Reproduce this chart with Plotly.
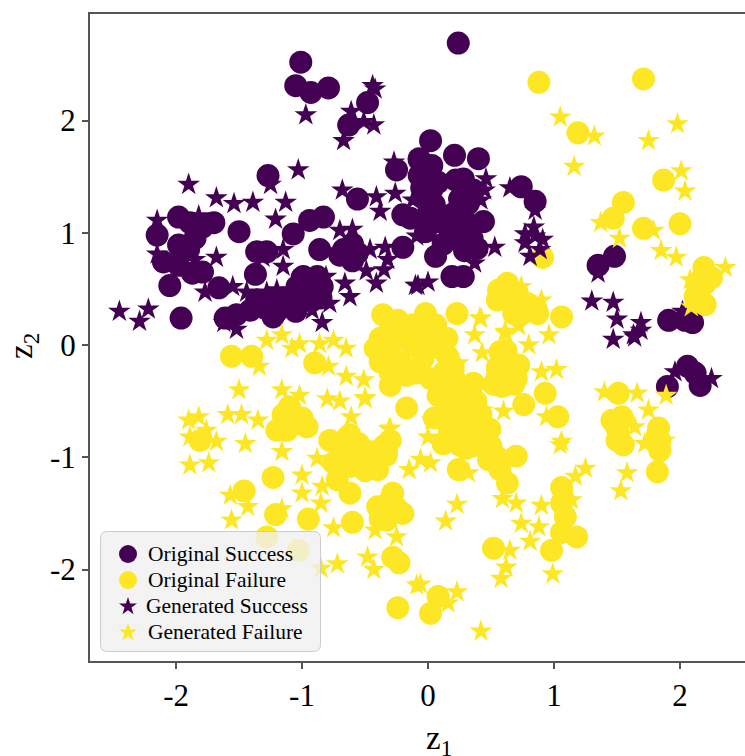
import math
import plotly.graph_objects as go

orig_success_x = [-1.01,-1.05,-.93,-.79,-.48,-.63,-1.27,-.25,-.07,-.56,-.2,-.2,-1.5,-1.98,-2.15,-1.98,-1.89,-1.79,-1.70,-2.10,-1.98,-1.87,-1.79,-2.05,-1.96,-1.66,-1.61,-1.37,-1.36,-1.28,-1.07,-.94,-.83,-.86,-.67,-.56,-.99,-.88,-1.04,-.94,-.84,-1.36,-1.25,-1.15,-1.23,-1.41,-1.52,-1.1,
 .02,-.07,.21,.40,-.07,.03,-.14,-.0,.2,.44,.36,.32,.22,.06,.29,.39,.19,.28,.74,.85,-.02,.02,-.02,.33,.23,.24,1.35,1.48,1.91,2.10,2.04,2.06,2.16,1.90,2.12,
 -1.2,-1.05,-.95,-.95,-.85,-1.0,-.85,-1.3,-1.15,.05,.08,-.05,.03,.1,.25,.3,.35,.2,.28,.12,-.6,-.7,-.6,-1.85,-1.9]
orig_success_y = [2.52,2.31,2.25,2.29,2.16,1.96,1.51,1.56,1.65,1.30,1.16,.87,1.01,1.14,.98,.89,1.09,1.05,1.09,.74,.71,.64,.65,.53,.24,.51,.24,.63,.83,.83,.99,1.11,1.14,.85,.85,.82,.61,.61,.52,.49,.52,.40,.37,.34,.25,.31,.27,.40,
 1.82,1.66,1.69,1.66,1.51,1.38,1.13,1.17,1.17,1.10,1.38,1.26,1.47,.79,.84,.86,.61,.61,1.41,1.28,1.32,1.08,1.01,.99,1.05,2.69,.71,.79,.22,.20,.22,-.19,-.36,-.37,-.25,
 .3,.3,.4,.55,.5,.6,.42,.33,.42,1.25,1.45,1.4,1.6,1.1,1.3,1.1,.95,.95,1.48,.9,.9,.8,.75,.95,.85]

orig_failure_x = [.88,1.71,1.19,1.87,1.55,1.47,1.71,2.0,.91,2.19,2.22,2.14,2.2,2.2,2.12,1.06,.63,.56,.71,.79,.87,.67,
 -1.56,-1.40,-.90,-1.10,-1.12,-1.04,-1.2,-.96,-1.81,-1.23,-1.46,-1.21,-.95,-.6,-1.28,-1.03,-.40,-.33,-.62,-.72,-.78,-.64,-.56,-.75,-.48,-.40,-.28,-.2,-.33,-.28,-.23,-.24,
 .02,.08,.52,.98,1.18,1.06,1.09,1.06,1.06,.49,.63,.57,.93,1.03,.59,.67,.59,1.51,1.46,1.54,1.51,1.55,1.83,1.84,1.82,1.84,
 -.36,-.24,-.02,.23,-.38,-.22,-.04,.15,-.38,-.22,-.04,.15,-.30,-.17,-.17,.10,.36,.25,.17,.25,.36,.48,.17,.25,.24,.48,.70,.76,.57,.60,.65,-.33,-.62,-.54,-.43,
 -.3,-.12,.06,-.3,-.12,.05,-.3,-.1,.02,.12,-.42,.2,.08,.22,.12,.3,.28,.2,.35,-1.15,-1.0,-.68,-.55,-.45,-.35,-.62,-.5,-.3,-.35,-.25,-.3,-.38,.6,.65,.72,.78,.68,.55,.5,.55,1.49,1.5,1.82,2.15,2.25,2.18,.62,.55,.7,.52,
 .1,.2,.3,.38,.05,.18,.32,.42,.3,.12,.62,.72,.68,.55]
orig_failure_y = [2.34,2.37,1.89,1.47,1.27,1.13,1.04,1.08,.78,.69,.61,.52,.55,.36,.43,.25,.55,.49,.46,.37,.28,.37,
 -.10,-.10,-.16,-.55,-.76,-.70,-.76,-.73,-.85,-1.18,-1.3,-1.51,-1.55,-1.58,-1.71,-1.83,-1.11,-.96,-1.32,-1.20,-.85,-.82,-1.0,-1.05,-1.02,-1.44,-1.32,-1.5,-1.56,-1.89,-1.94,-2.34,
 -2.39,-2.24,-1.81,-1.83,-1.71,-1.67,-1.53,-1.41,-1.27,-.75,-1.23,-1.11,-.43,-.64,-.12,-.28,-.37,-.43,-.67,-.64,-.78,-.89,-.74,-.94,-1.13,-.85,
 .27,.22,.28,.28,.06,.06,.09,.06,-.15,-.15,-.12,-.09,-.36,-.27,-.56,-.33,-.34,-.45,-.56,-.65,-.74,-.76,-.77,-.89,-1.11,-1.02,-.99,-.53,-.06,-.36,-.27,-.98,-.80,-.98,-1.01,
 .18,.18,.18,-.02,0,-.02,-.25,-.25,-.3,-.25,-.03,-.2,-.45,-.32,-.62,-.55,-.85,-.7,-.9,-.62,-.65,-.95,-.88,-.95,-.9,-1.08,-1.12,-.85,-1.5,-1.45,-1.38,-1.55,.45,.5,.35,.3,.28,.4,-.9,-1.0,-.72,-.85,-.8,.45,.6,.6,-.2,-.28,-.3,-.35,
 -.4,-.5,-.4,-.5,-.65,-.78,-.72,-.62,-.92,-.88,-.05,-.18,-.35,-.2]

gen_success_x = [-2.45,-2.22,-2.29,-1.90,-1.68,-1.54,-1.39,-1.13,-1.21,-1.03,-1.25,-.97,-.67,-.61,-.43,-.51,-.44,-.42,-.27,-.68,-.41,-.38,-.26,-.60,-.70,-1.68,-2.15,-2.15,-1.82,-1.85,-1.77,-1.55,-1.31,-1.15,-.46,-.34,-.32,-.35,-.49,-.66,-.41,-.62,-.10,-.84,-.92,-.78,-.81,-1.15,-1.20,-1.44,-1.28,-1.52,-1.62,-1.04,-.09,-.12,
 .0,-.08,.46,.65,.85,.84,.77,.91,.77,.81,.85,.89,1.35,1.30,1.47,1.50,1.69,1.63,1.47,1.64,1.69,2.02,.53,.37,.45,.42,2.25,1.96]
gen_success_y = [.30,.32,.21,1.43,1.31,1.26,1.27,1.27,1.12,1.56,1.43,2.05,1.82,2.08,1.96,1.99,2.31,2.28,1.63,1.38,1.32,1.19,1.35,1.03,1.02,.78,1.11,.81,1.15,.76,.47,.52,.78,.85,.85,.87,.76,.67,.66,.55,.55,.43,.53,.20,.31,.37,.61,.70,.49,.47,.47,.14,.20,.31,.97,1.29,
 .56,.53,1.48,1.40,1.20,1.05,.99,.94,.91,.79,.97,.85,.64,.39,.38,.23,.20,.09,.05,.07,.13,.30,.87,.73,1.38,1.29,-.30,-.24]

gen_failure_x = [1.05,1.32,1.16,1.75,1.98,2.01,2.04,1.37,1.52,1.79,1.85,1.97,2.36,2.08,2.09,.42,.37,.61,.80,.96,.90,.74,.72,.62,.43,.24,1.02,.90,1.40,1.66,1.89,1.75,.60,.94,1.64,1.72,1.88,1.05,1.06,.02,-.06,.32,1.25,1.17,1.58,1.53,.23,.14,.59,.70,.90,1.14,.74,.88,.81,.65,.62,.58,.99,.23,-.06,.16,.42,.03,0,.43,
 -1.34,-1.28,-1.16,-1.08,-1.02,-.86,-.75,-.65,-.79,-.65,-.51,-1.50,-1.16,-1.02,-.80,-.70,-.50,-1.59,-1.48,-1.35,-1.90,-1.82,-1.76,-1.68,-1.89,-1.45,-1.16,-.88,-1.89,-1.74,-1.00,-1.00,-.84,-.85,-1.57,-1.43,-1.56,-1.16,-.75,-.30,-.42,-.25,-.48,-.43,-.72,-.85,-.09,-.15,-.61,.41,-.31,-.50]
gen_failure_y = [2.03,1.86,1.59,1.82,1.97,1.55,1.37,1.09,.95,1.02,.84,.78,.69,.58,.34,.24,.09,.12,.0,.09,.40,.52,.17,.10,-.07,-.16,-.22,-.24,-.42,-.43,-.45,-.58,-.59,-.64,-.73,-.88,-.85,-.89,-.86,-1.05,-1.02,-1.14,-1.10,-1.17,-1.14,-1.30,-1.42,-1.57,-1.37,-1.41,-1.43,-1.38,-1.59,-1.62,-1.75,-1.83,-1.98,-2.08,-2.04,-2.20,-2.13,-2.30,-2.55,-.67,-.82,-.58,
 -.19,.04,.09,-.03,.01,.01,.04,-.03,-.19,-.28,-.31,-.40,-.40,-.45,-.48,-.50,-.48,-.62,-.62,-.67,-.67,-.64,-.76,-.86,-.82,-.88,-.95,-1.01,-1.07,-1.05,-1.16,-1.32,-1.26,-1.41,-1.34,-1.44,-1.56,-1.46,-1.63,-.74,-1.65,-1.71,-1.89,-2.0,-1.95,-1.99,-2.14,-1.11,-.64,.24,-.75,-.47]

x_ticks = [-2,-1,0,1,2]
y_ticks = [-2,-1,0,1,2]
x_range = [-2.683,2.516]
y_range = [-2.815,2.949]
legend_labels = ["Original Success", "Original Failure", "Generated Success", "Generated Failure"]

PURPLE = "#440154"
YELLOW = "#fde725"
SERIF = "Liberation Serif"

fig = go.Figure()
for name, xs, ys, sym, col, size in [
    (legend_labels[0], orig_success_x, orig_success_y, "circle", PURPLE, 23),
    (legend_labels[1], orig_failure_x, orig_failure_y, "circle", YELLOW, 23),
    (legend_labels[2], gen_success_x, gen_success_y, "star", PURPLE, 17),
    (legend_labels[3], gen_failure_x, gen_failure_y, "star", YELLOW, 17),
]:
    fig.add_trace(go.Scatter(x=xs, y=ys, mode="markers", name=name, showlegend=False,
                             marker=dict(symbol=sym, color=col, size=size, line=dict(width=0))))

W, H = 655.0, 647.0
px = lambda v: (v - 90) / W
py = lambda v: (661 - v) / H

def rr(x0, y0, x1, y1, r):
    return (f"M{px(x0+r)},{py(y0)} L{px(x1-r)},{py(y0)} Q{px(x1)},{py(y0)} {px(x1)},{py(y0+r)} "
            f"L{px(x1)},{py(y1-r)} Q{px(x1)},{py(y1)} {px(x1-r)},{py(y1)} "
            f"L{px(x0+r)},{py(y1)} Q{px(x0)},{py(y1)} {px(x0)},{py(y1-r)} "
            f"L{px(x0)},{py(y0+r)} Q{px(x0)},{py(y0)} {px(x0+r)},{py(y0)} Z")

def star(cx, cy, R):
    pts = []
    for i in range(10):
        a = -math.pi / 2 + i * math.pi / 5
        r = R if i % 2 == 0 else R * 0.382
        pts.append(f"{px(cx + r*math.cos(a))},{py(cy + r*math.sin(a))}")
    return "M" + " L".join(pts) + " Z"

fig.add_shape(type="path", xref="paper", yref="paper", layer="above",
              path=rr(100.5, 531.5, 320.5, 651.5, 7),
              fillcolor="rgba(240,240,240,0.8)", line=dict(color="#cccccc", width=1))

rows_y = [554, 580, 606, 632]
text_x = [146.5, 146.5, 144.5, 146.5]
for (cy, col) in zip(rows_y[:2], [PURPLE, YELLOW]):
    fig.add_shape(type="circle", xref="paper", yref="paper", layer="above",
                  x0=px(128-9), x1=px(128+9), y0=py(cy+9), y1=py(cy-9),
                  fillcolor=col, line=dict(width=0))
for (cy, col) in zip(rows_y[2:], [PURPLE, YELLOW]):
    fig.add_shape(type="path", xref="paper", yref="paper", layer="above",
                  path=star(128, cy+0.5, 9.5), fillcolor=col, line=dict(width=0))

annotations = []
for label, tx, cy in zip(legend_labels, text_x, rows_y):
    annotations.append(dict(text=label, xref="paper", yref="paper", x=px(tx), y=py(cy),
                            xanchor="left", yanchor="middle", showarrow=False, borderpad=0,
                            font=dict(family=SERIF, size=21.5, color="black")))
annotations.append(dict(text="z<sub>1</sub>", xref="paper", yref="paper", x=px(439), y=py(740),
                        xanchor="center", yanchor="middle", showarrow=False, borderpad=0,
                        font=dict(family=SERIF, size=33, color="black")))
annotations.append(dict(text="z<sub>2</sub>", xref="paper", yref="paper", x=px(23), y=py(346),
                        xanchor="center", yanchor="middle", showarrow=False, borderpad=0, textangle=-90,
                        font=dict(family=SERIF, size=33, color="black")))

axis = dict(showgrid=False, zeroline=False, showline=True, linecolor="#555555", linewidth=2,
            ticks="outside", ticklen=6, tickwidth=1.5, tickcolor="#555555",
            tickfont=dict(family=SERIF, size=31, color="black"))
fig.update_layout(
    width=745, height=756, autosize=False,
    margin=dict(l=90, r=0, t=14, b=95),
    paper_bgcolor="white", plot_bgcolor="white",
    font=dict(family=SERIF),
    xaxis=dict(axis, range=x_range, tickmode="array", tickvals=x_ticks, ticktext=[str(v) for v in x_ticks], mirror=True),
    yaxis=dict(axis, range=y_range, tickmode="array", tickvals=y_ticks, ticktext=[str(v) for v in y_ticks]),
    annotations=annotations,
    showlegend=False,
)
fig.write_html("out.html", config={"displayModeBar": False},
               post_script="document.body.style.margin='0';document.documentElement.style.overflow='hidden';")
